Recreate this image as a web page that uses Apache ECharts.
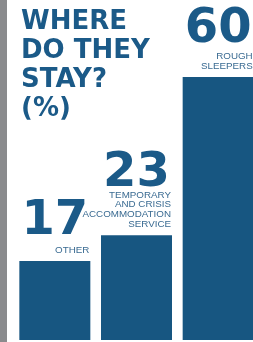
<!DOCTYPE html>
<html>
<head>
<meta charset="utf-8">
<script src="https://cdn.jsdelivr.net/npm/echarts@6/dist/echarts.min.js"></script>
<style>
  html, body { margin: 0; padding: 0; background: #fff; }
  #chart { width: 253px; height: 342px; }
</style>
</head>
<body>
<div id="chart"></div>
<script>
// where do they stay, percent
const categories = ['Other', 'Temporary and crisis accommodation service', 'Rough sleepers'];
const values = [17, 23, 60];
const descLines = [
  ['OTHER'],
  ['TEMPORARY', 'AND CRISIS', 'ACCOMMODATION', 'SERVICE'],
  ['ROUGH', 'SLEEPERS']
];

const blue = '#175681';
const textBlue = '#1b5a88';
const smallBlue = '#3a6b92';

const myChart = echarts.init(document.getElementById('chart'));

const option = {
  animation: false,
  backgroundColor: '#fff',
  title: {
    text: 'WHERE\nDO THEY\nSTAY?\n(%)',
    left: 21,
    top: 8,
    padding: 0,
    textStyle: {
      fontFamily: 'DejaVu Sans',
      fontWeight: 'bold',
      fontSize: 26,
      lineHeight: 29,
      color: textBlue
    }
  },
  graphic: [
    {
      type: 'rect',
      shape: { x: 0, y: 0, width: 7, height: 342 },
      style: { fill: '#8a8b8d' },
      silent: true
    }
  ],
  grid: {
    left: 14,
    width: 245,
    top: 77,
    bottom: 2,
    outerBoundsMode: 'none'
  },
  xAxis: {
    type: 'category',
    data: categories,
    show: false
  },
  yAxis: {
    type: 'value',
    // bars in the picture rise a little from below the zero line
    min: -1.5,
    startValue: -1.5,
    max: 60,
    show: false
  },
  series: [
    {
      name: 'numbers',
      type: 'bar',
      barWidth: 71,
      itemStyle: { color: blue },
      data: values.map((v, i) => ({
        value: v,
        label: { distance: 8 + descLines[i].length * 7.5 }
      })),
      label: {
        show: true,
        position: 'top',
        fontFamily: 'DejaVu Sans',
        fontWeight: 'bold',
        fontSize: 48,
        lineHeight: 48,
        color: textBlue
      }
    },
    {
      name: 'descriptions',
      type: 'bar',
      barWidth: 71,
      barGap: '-100%',
      silent: true,
      itemStyle: { color: 'transparent' },
      data: values,
      label: {
        show: true,
        position: ['100%', 0],
        align: 'right',
        verticalAlign: 'bottom',
        offset: [-1, -6],
        formatter: (p) => descLines[p.dataIndex].join('\n'),
        fontFamily: 'Liberation Sans',
        fontSize: 9.8,
        lineHeight: 9.8,
        color: smallBlue
      }
    }
  ]
};

myChart.setOption(option);
</script>
</body>
</html>
